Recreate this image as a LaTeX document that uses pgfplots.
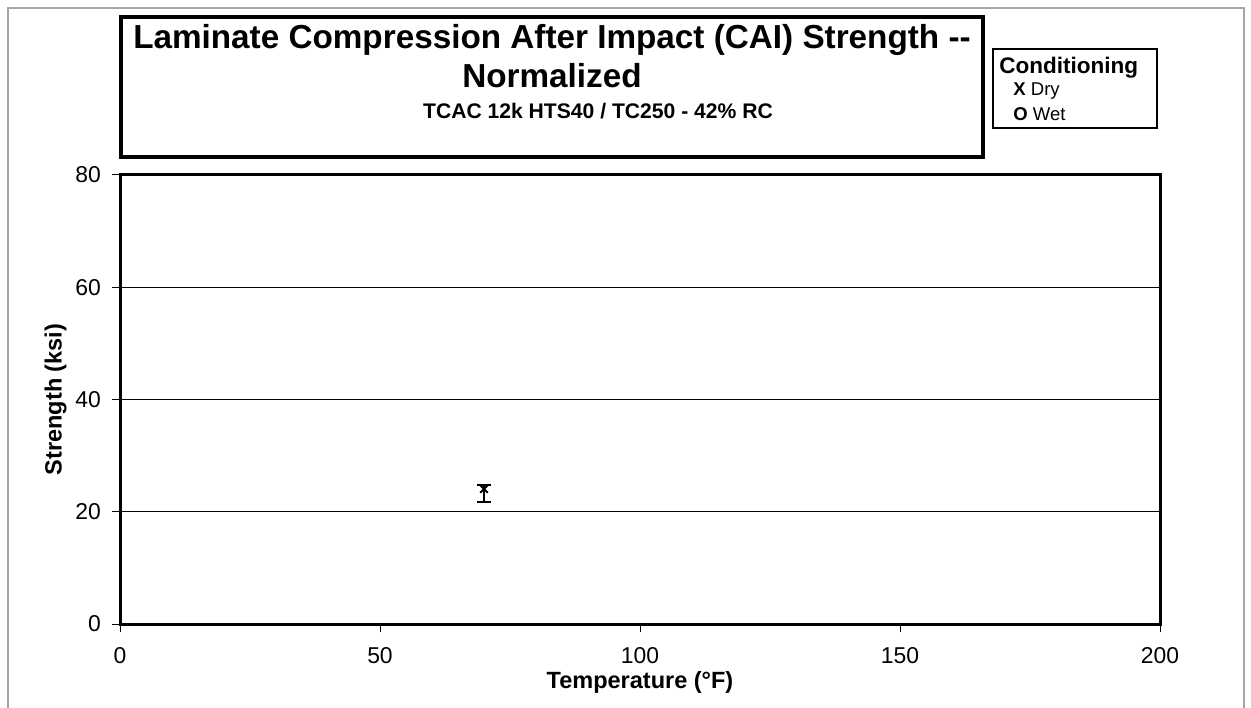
\documentclass[border=0pt]{standalone}
\usepackage{pgfplots}
\pgfplotsset{compat=1.18}
\usepackage{fontspec}
\setmainfont{Liberation Sans}
\begin{document}
\begin{tikzpicture}
\useasboundingbox (0,0) rectangle (625.5bp,354bp);
\draw[gray!70, line width=0.6bp] (4bp,-5bp) rectangle (622bp,350bp);
\draw[line width=2bp] (60.5bp,275.5bp) rectangle (491.5bp,345.5bp);
\node[font=\bfseries\fontsize{16.7}{19}\selectfont] at (276bp,334bp) {Laminate Compression After Impact (CAI) Strength -{}-};
\node[font=\bfseries\fontsize{16.7}{19}\selectfont] at (276bp,316bp) {Normalized};
\node[font=\bfseries\fontsize{10.6}{12}\selectfont] at (299bp,298.5bp) {TCAC 12k HTS40 / TC250 - 42\% RC};
\draw[line width=0.75bp] (496.5bp,290bp) rectangle (578.5bp,329.5bp);
\node[font=\bfseries\fontsize{11.3}{13}\selectfont, anchor=west, inner sep=0pt] at (499.5bp,320bp) {Conditioning};
\node[font=\fontsize{9.3}{11}\selectfont, anchor=west, inner sep=0pt] at (506.5bp,308.5bp) {\textbf{X} Dry};
\node[font=\fontsize{9.3}{11}\selectfont, anchor=west, inner sep=0pt] at (506.5bp,297bp) {\textbf{O} Wet};
\begin{axis}[
  at={(60bp,42bp)}, anchor=south west,
  scale only axis, width=520bp, height=224.5bp,
  xmin=0, xmax=200, ymin=0, ymax=80,
  xtick={0,50,100,150,200}, ytick={0,20,40,60,80},
  ymajorgrids, grid style={black, line width=0.5bp},
  axis line style={line width=1.5bp},
  tick style={black, line width=0.5bp},
  tick align=outside, major tick length=4bp,
  xtick pos=bottom, ytick pos=left,
  /pgf/number format/assume math mode=true,
  ticklabel style={font=\fontsize{11.5}{13}\selectfont},
  xticklabel style={yshift=-4bp},
  yticklabel style={xshift=-2bp},
  xlabel={\textbf{Temperature (°F)}}, ylabel={\textbf{Strength (ksi)}},
  label style={font=\fontsize{11.8}{14}\selectfont},
  xlabel style={at={(axis description cs:0.5,-0.1292)}, anchor=center},
  ylabel style={at={(axis description cs:-0.062,0.5)}, anchor=center},
]
\addplot[black, only marks, mark=x, mark size=2.7bp, line width=0.9bp,
  error bars/.cd, y dir=both, y explicit,
  error mark options={rotate=90, mark size=3.5bp, line width=0.8bp},
  error bar style={line width=0.8bp}]
  coordinates {(70,24.05) +- (0,0.75) -= (0,2.35)};
\end{axis}
\end{tikzpicture}
\end{document}
